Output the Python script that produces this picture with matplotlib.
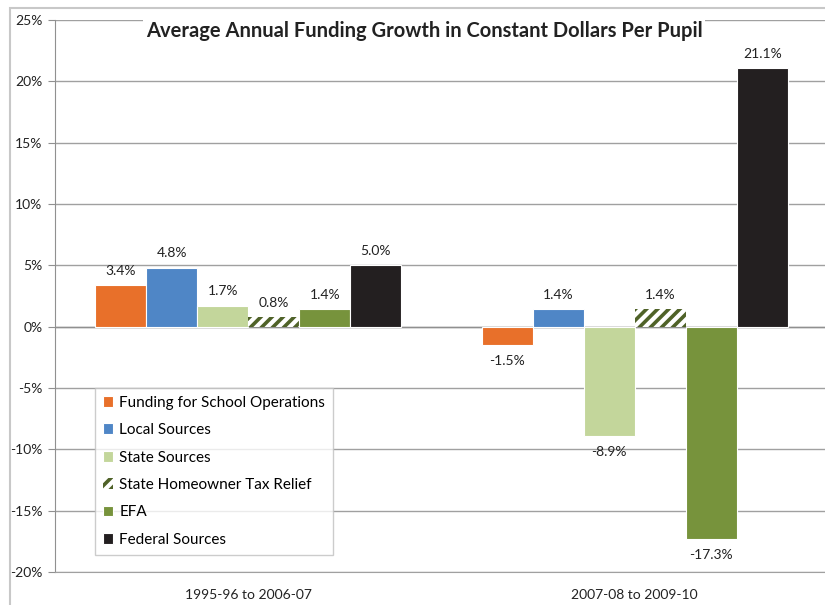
import matplotlib
matplotlib.use("Agg")
import matplotlib.pyplot as plt
from matplotlib.patches import Rectangle
import numpy as np

plt.rcParams['font.family'] = ['Lato', 'DejaVu Sans']
plt.rcParams['hatch.linewidth'] = 2.6

periods = ["1995-96 to 2006-07", "2007-08 to 2009-10"]
series = ["Funding for School Operations", "Local Sources", "State Sources",
          "State Homeowner Tax Relief", "EFA", "Federal Sources"]
values = {
    "Funding for School Operations": [3.4, -1.5],
    "Local Sources": [4.8, 1.4],
    "State Sources": [1.7, -8.9],
    "State Homeowner Tax Relief": [0.8, 1.4],
    "EFA": [1.4, -17.3],
    "Federal Sources": [5.0, 21.1],
}
colors = ["#E8702A", "#4F86C6", "#C3D69B", "white", "#77933C", "#231F20"]
yticks = [-20, -15, -10, -5, 0, 5, 10, 15, 20, 25]

fig = plt.figure(figsize=(8.25, 6.05), dpi=100)
W, H = 825, 605
ax = fig.add_axes([55 / W, 1 - 572 / H, (828 - 55) / W, (572 - 20) / H])

# figure border
fig.patches.append(Rectangle((10 / W, -0.1), 1.2, 1 - 8 / H + 0.1, transform=fig.transFigure,
                             fill=False, edgecolor="#C8C8C8", linewidth=1.5, zorder=0))

x = np.arange(len(periods))
w = 51 / 386
for j, s in enumerate(series):
    pos = x + (j - 2.5) * w
    vals = values[s]
    if s == "State Homeowner Tax Relief":
        ax.bar(pos, vals, w, color="white", edgecolor="#4F6228", hatch="///",
               linewidth=0, label=s, zorder=3)
    else:
        ax.bar(pos, vals, w, color=colors[j], edgecolor="white", linewidth=0.8,
               label=s, zorder=3)
    for p, v in zip(pos, vals):
        if v >= 0:
            ax.annotate(f"{v:.1f}%", (p, v), xytext=(0, 6), textcoords="offset points",
                        ha="center", va="bottom", fontsize=10, color="#222222")
        else:
            ax.annotate(f"{v:.1f}%", (p, v), xytext=(0, -7), textcoords="offset points",
                        ha="center", va="top", fontsize=10, color="#222222")

ax.set_xlim(-0.5, 1.5)
ax.set_ylim(-20, 25)
ax.set_yticks(yticks)
ax.set_yticklabels([f"{t}%" for t in yticks], fontsize=10, color="#222222")
ax.set_xticks(x)
ax.set_xticklabels(periods, fontsize=10, color="#222222")
ax.tick_params(axis="x", length=0, pad=12)
ax.tick_params(axis="y", length=5, color="#909090", pad=4)
ax.yaxis.grid(True, color="#A0A0A0", linewidth=1.0, zorder=0)
ax.set_axisbelow(True)
for side in ["top", "right"]:
    ax.spines[side].set_visible(False)
ax.spines["left"].set_color("#909090")
ax.spines["bottom"].set_color("#A0A0A0")
ax.axhline(0, color="#909090", linewidth=1.0, zorder=2)

ax.text(424 / W, 1 - 31 / H, "Average Annual Funding Growth in Constant Dollars Per Pupil",
        transform=fig.transFigure, ha="center", va="center", fontsize=14.5,
        fontweight="bold", color="#222222",
        bbox=dict(facecolor="white", edgecolor="none", pad=2))

leg = ax.legend(loc="upper left", bbox_to_anchor=((95 - 55) / (828 - 55), (572 - 388) / (572 - 20)),
                fontsize=11, frameon=True, fancybox=False, handlelength=0.7,
                handleheight=0.7, handletextpad=0.4, labelspacing=0.88,
                borderpad=0.5, borderaxespad=0)
leg.get_frame().set_edgecolor("#C0C0C0")
leg.get_frame().set_linewidth(1.0)

fig.savefig("out.png", dpi=100)
